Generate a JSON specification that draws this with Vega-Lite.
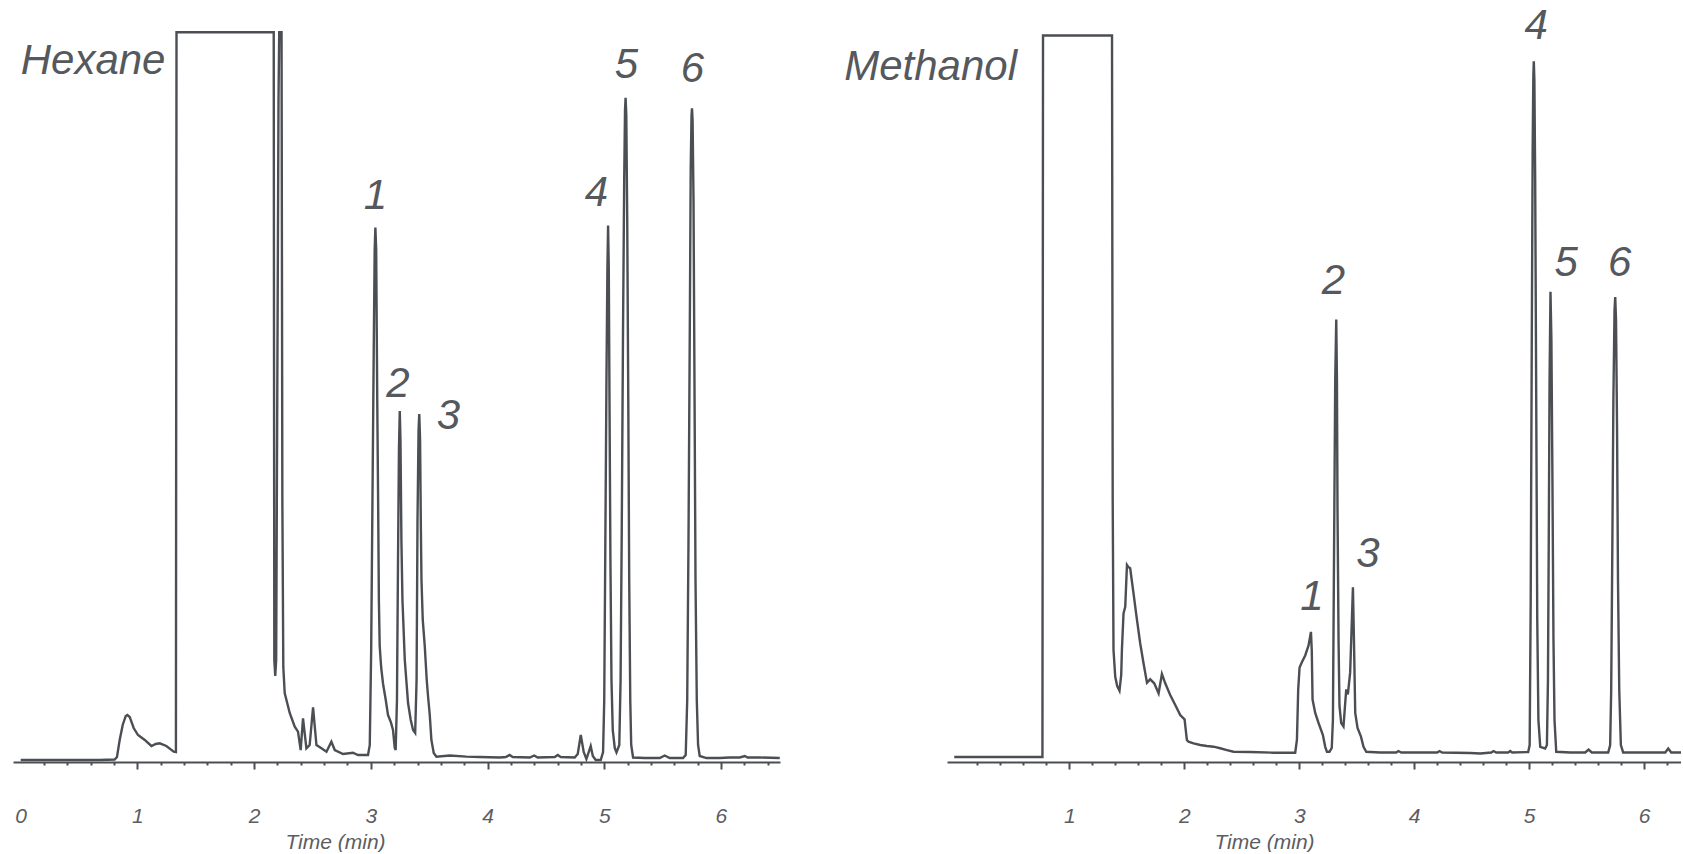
{
  "$schema": "https://vega.github.io/schema/vega-lite/v6.json",
  "background": "white",
  "padding": {"left": 13, "top": 0, "right": 0, "bottom": 0},
  "autosize": {"type": "pad"},
  "spacing": 167,
  "bounds": "flush",
  "config": {"view": {"stroke": null}, "axis": {"grid": false}, "font": "Liberation Sans"},
  "datasets": {
    "hex": [
      {"t":0.000,"s":0.26},{"t":0.334,"s":0.26},{"t":0.677,"s":0.26},{"t":0.805,"s":0.33},{"t":0.825,"s":0.66},{"t":0.848,"s":2.89},{"t":0.874,"s":4.86},{"t":0.900,"s":6.04},{"t":0.914,"s":6.17},{"t":0.934,"s":5.91},{"t":0.968,"s":4.46},{"t":1.005,"s":3.54},{"t":1.063,"s":2.89},{"t":1.120,"s":2.10},{"t":1.157,"s":2.36},{"t":1.191,"s":2.45},{"t":1.248,"s":2.10},{"t":1.311,"s":1.35},{"t":1.330,"s":1.31},{"t":1.335,"s":95.76},{"t":2.168,"s":95.76},{"t":2.173,"s":13.39},{"t":2.181,"s":11.29},{"t":2.189,"s":13.39},{"t":2.209,"s":86.88},{"t":2.215,"s":95.76},{"t":2.235,"s":95.76},{"t":2.242,"s":34.38},{"t":2.250,"s":12.51},{"t":2.262,"s":9.06},{"t":2.305,"s":6.43},{"t":2.348,"s":4.63},{"t":2.376,"s":3.98},{"t":2.399,"s":1.57},{"t":2.419,"s":5.73},{"t":2.448,"s":1.80},{"t":2.476,"s":2.23},{"t":2.505,"s":7.18},{"t":2.534,"s":2.23},{"t":2.577,"s":1.80},{"t":2.620,"s":1.35},{"t":2.662,"s":2.66},{"t":2.691,"s":1.57},{"t":2.762,"s":1.05},{"t":2.847,"s":1.22},{"t":2.890,"s":0.92},{"t":2.976,"s":0.92},
      {"t":2.991,"s":2.23},{"t":3.003,"s":14.70},{"t":3.014,"s":34.38},{"t":3.025,"s":54.07},{"t":3.033,"s":67.19},{"t":3.039,"s":70.14},{"t":3.046,"s":67.19},{"t":3.055,"s":47.51},{"t":3.062,"s":35.30},{"t":3.069,"s":21.26},{"t":3.076,"s":15.22},{"t":3.089,"s":12.34},{"t":3.105,"s":10.24},{"t":3.128,"s":8.14},{"t":3.147,"s":6.17},{"t":3.171,"s":5.25},{"t":3.190,"s":4.20},{"t":3.205,"s":1.84},{"t":3.213,"s":1.57},
      {"t":3.224,"s":8.14},{"t":3.233,"s":26.51},{"t":3.241,"s":40.94},{"t":3.248,"s":46.06},{"t":3.254,"s":42.26},{"t":3.262,"s":29.13},{"t":3.271,"s":21.26},{"t":3.291,"s":13.39},{"t":3.319,"s":7.74},{"t":3.342,"s":5.51},{"t":3.362,"s":4.20},{"t":3.380,"s":3.81},
      {"t":3.392,"s":10.76},{"t":3.400,"s":31.76},{"t":3.409,"s":43.57},{"t":3.415,"s":45.67},{"t":3.422,"s":42.26},{"t":3.429,"s":30.45},{"t":3.434,"s":23.88},{"t":3.445,"s":18.64},{"t":3.462,"s":15.22},{"t":3.479,"s":10.76},{"t":3.490,"s":8.66},{"t":3.505,"s":6.17},{"t":3.519,"s":2.89},{"t":3.539,"s":1.18},{"t":3.562,"s":0.70},
      {"t":3.676,"s":0.85},{"t":3.819,"s":0.70},{"t":3.933,"s":0.66},{"t":4.105,"s":0.59},{"t":4.156,"s":0.66},{"t":4.189,"s":0.92},{"t":4.216,"s":0.66},{"t":4.362,"s":0.59},{"t":4.400,"s":0.85},{"t":4.430,"s":0.59},{"t":4.576,"s":0.66},{"t":4.602,"s":0.92},{"t":4.627,"s":0.66},{"t":4.747,"s":0.59},
      {"t":4.773,"s":1.05},{"t":4.799,"s":3.54},{"t":4.824,"s":1.31},{"t":4.847,"s":0.39},{"t":4.867,"s":1.31},{"t":4.884,"s":2.10},{"t":4.902,"s":0.79},{"t":4.927,"s":0.26},{"t":4.970,"s":0.26},{"t":4.990,"s":1.31},
      {"t":5.000,"s":8.14},{"t":5.009,"s":27.82},{"t":5.019,"s":50.13},{"t":5.027,"s":64.57},{"t":5.033,"s":70.42},{"t":5.039,"s":64.57},{"t":5.045,"s":47.51},{"t":5.053,"s":26.51},{"t":5.062,"s":10.76},{"t":5.073,"s":4.20},{"t":5.090,"s":1.84},{"t":5.105,"s":1.25},
      {"t":5.129,"s":2.23},{"t":5.140,"s":10.76},{"t":5.150,"s":30.45},{"t":5.161,"s":56.69},{"t":5.171,"s":76.38},{"t":5.178,"s":85.56},{"t":5.183,"s":87.18},{"t":5.189,"s":84.91},{"t":5.197,"s":71.13},{"t":5.206,"s":47.51},{"t":5.214,"s":23.88},{"t":5.223,"s":8.14},{"t":5.231,"s":2.23},{"t":5.247,"s":0.59},
      {"t":5.347,"s":0.52},{"t":5.476,"s":0.52},{"t":5.518,"s":0.85},{"t":5.561,"s":0.52},{"t":5.675,"s":0.52},
      {"t":5.698,"s":0.92},{"t":5.711,"s":8.14},{"t":5.722,"s":29.13},{"t":5.733,"s":56.69},{"t":5.741,"s":77.95},{"t":5.748,"s":84.91},{"t":5.752,"s":85.77},{"t":5.757,"s":84.25},{"t":5.765,"s":73.75},{"t":5.774,"s":47.51},{"t":5.782,"s":23.88},{"t":5.793,"s":8.14},{"t":5.804,"s":2.23},{"t":5.818,"s":0.79},{"t":5.876,"s":0.52},
      {"t":5.990,"s":0.52},{"t":6.075,"s":0.59},{"t":6.161,"s":0.59},{"t":6.204,"s":0.79},{"t":6.229,"s":0.59},{"t":6.332,"s":0.59},{"t":6.504,"s":0.52}
    ],
    "meth": [
      {"t":0.000,"s":0.66},{"t":0.400,"s":0.66},{"t":0.767,"s":0.66},{"t":0.772,"s":95.34},{"t":1.372,"s":95.34},{"t":1.378,"s":34.38},{"t":1.385,"s":14.70},{"t":1.400,"s":11.19},{"t":1.417,"s":9.97},{"t":1.437,"s":9.36},{"t":1.452,"s":11.42},{"t":1.458,"s":14.70},{"t":1.472,"s":19.51},{"t":1.487,"s":20.38},{"t":1.502,"s":25.85},{"t":1.513,"s":25.59},{"t":1.530,"s":25.42},{"t":1.559,"s":22.14},{"t":1.589,"s":18.64},{"t":1.617,"s":15.58},{"t":1.646,"s":12.95},{"t":1.676,"s":10.41},{"t":1.704,"s":10.85},{"t":1.739,"s":10.33},{"t":1.777,"s":9.02},{"t":1.806,"s":11.55},{"t":1.835,"s":10.33},{"t":1.878,"s":8.79},{"t":1.922,"s":7.48},{"t":1.965,"s":6.17},{"t":2.003,"s":5.60},{"t":2.023,"s":2.89},{"t":2.037,"s":2.66},{"t":2.081,"s":2.45},{"t":2.139,"s":2.23},{"t":2.197,"s":2.10},{"t":2.255,"s":2.01},{"t":2.313,"s":1.80},{"t":2.371,"s":1.57},{"t":2.429,"s":1.35},{"t":2.574,"s":1.31},{"t":2.777,"s":1.22},{"t":2.965,"s":1.22},
      {"t":2.980,"s":2.89},{"t":2.991,"s":9.45},{"t":3.003,"s":12.41},{"t":3.023,"s":13.08},{"t":3.052,"s":13.98},{"t":3.081,"s":15.30},{"t":3.102,"s":17.07},{"t":3.109,"s":14.70},{"t":3.116,"s":8.20},{"t":3.139,"s":6.43},{"t":3.168,"s":5.12},{"t":3.206,"s":3.54},{"t":3.226,"s":1.99},{"t":3.241,"s":1.34},{"t":3.263,"s":1.34},{"t":3.283,"s":1.84},
      {"t":3.293,"s":5.51},{"t":3.303,"s":27.82},{"t":3.313,"s":50.13},{"t":3.322,"s":58.08},{"t":3.328,"s":50.13},{"t":3.333,"s":33.07},{"t":3.342,"s":16.01},{"t":3.350,"s":7.35},{"t":3.365,"s":5.12},{"t":3.385,"s":4.66},{"t":3.400,"s":7.77},{"t":3.409,"s":9.54},{"t":3.423,"s":8.87},{"t":3.443,"s":11.76},{"t":3.455,"s":17.32},{"t":3.467,"s":22.93},{"t":3.476,"s":16.01},{"t":3.487,"s":6.43},{"t":3.507,"s":4.46},{"t":3.537,"s":3.33},{"t":3.559,"s":1.99},{"t":3.583,"s":1.34},
      {"t":3.704,"s":1.25},{"t":3.843,"s":1.25},{"t":3.863,"s":1.44},{"t":3.887,"s":1.25},{"t":4.200,"s":1.25},{"t":4.220,"s":1.44},{"t":4.243,"s":1.25},{"t":4.487,"s":1.18},{"t":4.574,"s":1.12},{"t":4.670,"s":1.25},{"t":4.690,"s":1.44},{"t":4.713,"s":1.25},{"t":4.817,"s":1.25},{"t":4.835,"s":1.44},{"t":4.852,"s":1.25},{"t":4.991,"s":1.31},
      {"t":5.004,"s":2.23},{"t":5.013,"s":21.26},{"t":5.022,"s":54.07},{"t":5.030,"s":80.31},{"t":5.036,"s":90.16},{"t":5.040,"s":91.97},{"t":5.045,"s":89.50},{"t":5.052,"s":76.38},{"t":5.061,"s":47.51},{"t":5.070,"s":18.64},{"t":5.080,"s":5.51},{"t":5.096,"s":1.99},{"t":5.139,"s":1.78},
      {"t":5.154,"s":2.23},{"t":5.163,"s":10.76},{"t":5.170,"s":29.13},{"t":5.177,"s":50.13},{"t":5.185,"s":61.72},{"t":5.193,"s":55.38},{"t":5.202,"s":37.01},{"t":5.211,"s":16.01},{"t":5.220,"s":5.51},{"t":5.235,"s":1.34},
      {"t":5.357,"s":1.25},{"t":5.487,"s":1.25},{"t":5.516,"s":1.64},{"t":5.544,"s":1.25},{"t":5.687,"s":1.25},
      {"t":5.704,"s":2.23},{"t":5.713,"s":9.45},{"t":5.722,"s":26.51},{"t":5.732,"s":47.51},{"t":5.742,"s":59.32},{"t":5.748,"s":61.02},{"t":5.755,"s":58.01},{"t":5.764,"s":43.57},{"t":5.772,"s":23.88},{"t":5.783,"s":9.45},{"t":5.797,"s":2.23},{"t":5.817,"s":1.25},
      {"t":6.052,"s":1.25},{"t":6.183,"s":1.25},{"t":6.209,"s":1.77},{"t":6.235,"s":1.25},{"t":6.400,"s":1.25}
    ],
    "hexLab": [
      {"t":3.039,"s":72.6,"label":"1"},{"t":3.232,"s":47.9,"label":"2"},{"t":3.664,"s":43.7,"label":"3"},{"t":4.934,"s":73.0,"label":"4"},{"t":5.190,"s":89.8,"label":"5"},{"t":5.756,"s":89.2,"label":"6"}
    ],
    "methLab": [
      {"t":3.110,"s":19.9,"label":"1"},{"t":3.298,"s":61.4,"label":"2"},{"t":3.597,"s":25.6,"label":"3"},{"t":5.060,"s":94.9,"label":"4"},{"t":5.322,"s":63.8,"label":"5"},{"t":5.786,"s":63.8,"label":"6"}
    ],
    "hexName": [{"t":0.0,"s":90.3,"label":"Hexane"}],
    "methName": [{"t":-0.957,"s":89.5,"label":"Methanol"}]
  },
  "hconcat": [
    {
      "width": 767,
      "height": 762,
      "resolve": {"axis": {"x": "independent"}},
      "layer": [
        {
          "data": {"name": "hex"},
          "mark": {"type": "line", "stroke": "#4b4e53", "strokeWidth": 2.4, "clip": true, "interpolate": "linear"},
          "encoding": {
            "x": {"field": "t", "type": "quantitative", "scale": {"domain": [-0.066, 6.506], "nice": false, "zero": false},
                  "axis": {"orient": "bottom", "values": [0.2,0.4,0.6,0.8,1.2,1.4,1.6,1.8,2.2,2.4,2.6,2.8,3.2,3.4,3.6,3.8,4.2,4.4,4.6,4.8,5.2,5.4,5.6,5.8,6.2,6.4],
                           "labels": false, "title": null, "tickSize": 3, "tickWidth": 2, "tickColor": "#4b4e53", "domain": true, "domainWidth": 2.2, "domainColor": "#4b4e53", "grid": false}},
            "y": {"field": "s", "type": "quantitative", "scale": {"domain": [0, 100], "nice": false, "zero": false}, "axis": null}
          }
        },
        {
          "data": {"name": "hexLab"},
          "mark": {"type": "text", "font": "Liberation Sans", "fontSize": 42, "fontStyle": "italic", "color": "#55585c", "align": "center", "baseline": "alphabetic"},
          "encoding": {
            "x": {"field": "t", "type": "quantitative", "scale": {"domain": [-0.066, 6.506], "nice": false, "zero": false},
                  "axis": {"orient": "bottom", "values": [0,1,2,3,4,5,6], "domain": false, "tickSize": 7, "tickWidth": 2, "tickColor": "#4b4e53",
                           "tickOpacity": {"condition": {"test": "datum.value == 0", "value": 0}, "value": 1},
                           "labelFont": "Liberation Sans", "labelFontSize": 21, "labelFontStyle": "italic", "labelColor": "#5b5d61", "labelPadding": 36, "labelFlush": false, "labelOverlap": false,
                           "title": "Time (min)", "titleFont": "Liberation Sans", "titleFontSize": 21, "titleFontStyle": "italic", "titleFontWeight": "normal", "titleColor": "#5b5d61",
                           "titleX": 322, "titleY": 86, "titleBaseline": "alphabetic", "titleAlign": "center", "grid": false}},
            "y": {"field": "s", "type": "quantitative", "scale": {"domain": [0, 100], "nice": false, "zero": false}, "axis": null},
            "text": {"field": "label"}
          }
        },
        {
          "data": {"name": "hexName"},
          "mark": {"type": "text", "font": "Liberation Sans", "fontSize": 42, "fontStyle": "italic", "color": "#55585c", "align": "left", "baseline": "alphabetic"},
          "encoding": {
            "x": {"field": "t", "type": "quantitative", "scale": {"domain": [-0.066, 6.506], "nice": false, "zero": false}, "axis": null},
            "y": {"field": "s", "type": "quantitative", "scale": {"domain": [0, 100], "nice": false, "zero": false}, "axis": null},
            "text": {"field": "label"}
          }
        }
      ]
    },
    {
      "width": 734,
      "height": 762,
      "resolve": {"axis": {"x": "independent"}},
      "layer": [
        {
          "data": {"name": "meth"},
          "mark": {"type": "line", "stroke": "#4b4e53", "strokeWidth": 2.4, "clip": true, "interpolate": "linear"},
          "encoding": {
            "x": {"field": "t", "type": "quantitative", "scale": {"domain": [-0.063, 6.32], "nice": false, "zero": false},
                  "axis": {"orient": "bottom", "values": [0.2,0.4,0.6,0.8,1.2,1.4,1.6,1.8,2.2,2.4,2.6,2.8,3.2,3.4,3.6,3.8,4.2,4.4,4.6,4.8,5.2,5.4,5.6,5.8,6.2],
                           "labels": false, "title": null, "tickSize": 3, "tickWidth": 2, "tickColor": "#4b4e53", "domain": true, "domainWidth": 2.2, "domainColor": "#4b4e53", "grid": false}},
            "y": {"field": "s", "type": "quantitative", "scale": {"domain": [0, 100], "nice": false, "zero": false}, "axis": null}
          }
        },
        {
          "data": {"name": "methLab"},
          "mark": {"type": "text", "font": "Liberation Sans", "fontSize": 42, "fontStyle": "italic", "color": "#55585c", "align": "center", "baseline": "alphabetic"},
          "encoding": {
            "x": {"field": "t", "type": "quantitative", "scale": {"domain": [-0.063, 6.32], "nice": false, "zero": false},
                  "axis": {"orient": "bottom", "values": [1,2,3,4,5,6], "domain": false, "tickSize": 7, "tickWidth": 2, "tickColor": "#4b4e53",
                           "labelFont": "Liberation Sans", "labelFontSize": 21, "labelFontStyle": "italic", "labelColor": "#5b5d61", "labelPadding": 36, "labelFlush": false, "labelOverlap": false,
                           "title": "Time (min)", "titleFont": "Liberation Sans", "titleFontSize": 21, "titleFontStyle": "italic", "titleFontWeight": "normal", "titleColor": "#5b5d61",
                           "titleX": 317, "titleY": 86, "titleBaseline": "alphabetic", "titleAlign": "center", "grid": false}},
            "y": {"field": "s", "type": "quantitative", "scale": {"domain": [0, 100], "nice": false, "zero": false}, "axis": null},
            "text": {"field": "label"}
          }
        },
        {
          "data": {"name": "methName"},
          "mark": {"type": "text", "font": "Liberation Sans", "fontSize": 42, "fontStyle": "italic", "color": "#55585c", "align": "left", "baseline": "alphabetic"},
          "encoding": {
            "x": {"field": "t", "type": "quantitative", "scale": {"domain": [-0.063, 6.32], "nice": false, "zero": false}, "axis": null},
            "y": {"field": "s", "type": "quantitative", "scale": {"domain": [0, 100], "nice": false, "zero": false}, "axis": null},
            "text": {"field": "label"}
          }
        }
      ]
    }
  ]
}
